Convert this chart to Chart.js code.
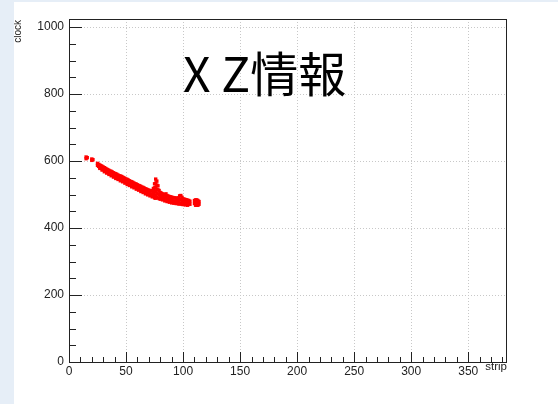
<!DOCTYPE html>
<html>
<head>
<meta charset="utf-8">
<script src="https://cdn.jsdelivr.net/npm/chart.js@4/dist/chart.umd.min.js"></script>
<style>
  html, body { margin: 0; padding: 0; }
  body { width: 558px; height: 404px; background: #e6eef7; position: relative; overflow: hidden; }
  #wrap { position: absolute; left: 14px; top: 2px; width: 544px; height: 402px; background: #fff; }
</style>
</head>
<body>
<div id="wrap"><canvas id="chart" width="544" height="402"></canvas></div>
<script>
// hit data: strip number and clock value
const strips = [
  15, 15, 16, 20, 20, 21,
  25, 25, 26, 26, 27, 27, 27, 28, 28, 29, 29, 29, 30, 30, 31, 31, 31, 32, 32,
  33, 33, 33, 34, 34, 35, 35, 35, 36, 36, 37, 37, 37, 38, 38, 39, 39, 39,
  40, 40, 41, 41, 41, 42, 42, 43, 43, 43, 44, 44, 45, 45, 45, 46, 46,
  47, 47, 47, 48, 48, 49, 49, 49, 50, 50, 51, 51, 51, 52, 52, 53, 53, 53,
  54, 54, 55, 55, 55, 56, 56, 57, 57, 57, 58, 58, 59, 59, 59, 60, 60,
  61, 61, 61, 62, 62, 63, 63, 63, 64, 64, 65, 65, 65, 66, 66, 67, 67, 67,
  68, 68, 69, 69, 69, 70, 70, 71, 71, 71, 72, 72, 73, 73, 73, 74, 74, 74,
  75, 75, 75, 75, 75, 76, 76, 76, 76, 76, 76, 77, 77, 77, 77, 77,
  78, 78, 78, 78, 79, 79, 79, 80, 80, 80, 81, 81, 82, 82, 82,
  83, 83, 84, 84, 84, 85, 85, 86, 86, 86, 87, 87, 88, 88, 88, 89, 89,
  90, 90, 90, 91, 91, 92, 92, 92, 93, 93, 94, 94, 94, 95, 95, 96, 96, 96,
  97, 97, 97, 98, 98, 98, 99, 99, 99, 100, 100, 100, 101, 101,
  102, 102, 102, 103, 103, 104, 104, 104, 105, 105, 106, 106,
  110, 110, 111, 111, 111, 112, 112, 112, 113, 113, 113, 114, 114
];
const clocks = [
  612, 607, 610, 606, 602, 604,
  593, 587, 590, 584, 588, 582, 578, 586, 580, 584, 577, 573, 582, 575, 580, 574, 568, 578, 571,
  576, 569, 564, 574, 567, 572, 565, 560, 570, 563, 569, 561, 556, 567, 560, 565, 558, 552,
  563, 556, 562, 554, 548, 560, 552, 558, 551, 545, 556, 549, 555, 547, 541, 554, 546,
  552, 544, 538, 550, 542, 548, 540, 534, 546, 538, 545, 536, 530, 543, 534, 541, 533, 527,
  539, 531, 538, 529, 523, 536, 527, 534, 526, 520, 532, 524, 531, 522, 516, 529, 520,
  527, 519, 513, 526, 517, 524, 515, 509, 522, 514, 521, 512, 506, 519, 510, 517, 509, 502,
  516, 507, 514, 505, 499, 513, 504, 511, 502, 496, 510, 500, 512, 499, 493, 518, 505, 495,
  532, 520, 508, 496, 490, 546, 534, 522, 510, 498, 489, 540, 528, 516, 504, 492,
  526, 514, 502, 490, 512, 500, 488, 506, 496, 486, 504, 494, 502, 492, 484,
  500, 490, 499, 489, 481, 502, 492, 497, 487, 479, 495, 485, 494, 484, 477, 493, 483,
  492, 482, 475, 491, 481, 490, 480, 474, 490, 479, 489, 479, 473, 488, 478, 490, 478, 472,
  496, 484, 472, 497, 485, 473, 492, 480, 471, 487, 478, 470, 486, 476,
  485, 475, 469, 484, 474, 483, 473, 468, 482, 472, 480, 471,
  482, 473, 484, 475, 468, 484, 474, 468, 482, 473, 468, 479, 471
];
const xTicks = [0, 50, 100, 150, 200, 250, 300, 350];
const yTicks = [0, 200, 400, 600, 800, 1000];
const titleText = 'X Z情報';
const xTitle = 'strip';
const yTitle = 'clock';

const points = strips.map((s, i) => ({ x: s, y: clocks[i] }));

// ROOT style: frame, inner ticks, axis titles and the big text
const rootFrame = {
  id: 'rootFrame',
  afterDraw(chart) {
    const { ctx, chartArea: a, scales } = chart;
    const xs = scales.x, ys = scales.y;
    ctx.save();
    ctx.strokeStyle = '#222';
    ctx.lineWidth = 1;
    ctx.strokeRect(a.left + 0.5, a.top + 0.5, a.right - a.left - 1, a.bottom - a.top);

    ctx.beginPath();
    for (let v = 0; v <= 380; v += 10) {
      const px = Math.round(xs.getPixelForValue(v)) + 0.5;
      const len = v % 50 === 0 ? 10 : 5;
      ctx.moveTo(px, a.bottom);
      ctx.lineTo(px, a.bottom - len);
    }
    for (let v = 0; v <= 1000; v += 50) {
      const py = Math.round(ys.getPixelForValue(v)) + 0.5;
      const len = v % 200 === 0 ? 13 : 7;
      ctx.moveTo(a.left, py);
      ctx.lineTo(a.left + len, py);
    }
    ctx.stroke();

    ctx.fillStyle = '#222';
    ctx.font = '11.5px "Liberation Sans", Arial, sans-serif';
    ctx.textAlign = 'right';
    ctx.textBaseline = 'alphabetic';
    ctx.fillText(xTitle, a.right, a.bottom + 8);

    ctx.font = '10px "Liberation Sans", Arial, sans-serif';
    ctx.translate(7, a.top + 1);
    ctx.rotate(-Math.PI / 2);
    ctx.fillText(yTitle, 0, 0);
    ctx.restore();

    ctx.save();
    ctx.fillStyle = '#000';
    ctx.font = '48px "Noto Sans CJK JP", sans-serif';
    ctx.textAlign = 'left';
    ctx.textBaseline = 'alphabetic';
    ctx.fillText(titleText, 169, 90);
    ctx.restore();
  }
};

new Chart(document.getElementById('chart'), {
  type: 'scatter',
  data: {
    datasets: [{
      data: points,
      backgroundColor: '#ff0000',
      borderColor: '#ff0000',
      borderWidth: 0,
      pointStyle: 'rect',
      pointRadius: 2.4
    }]
  },
  options: {
    responsive: false,
    animation: false,
    devicePixelRatio: 1,
    layout: { padding: { top: 17, right: 51, left: 0, bottom: 0 } },
    plugins: { legend: { display: false }, tooltip: { enabled: false } },
    scales: {
      x: {
        type: 'linear',
        min: 0,
        max: 384,
        afterFit(scale) { scale.height = 42; },
        afterBuildTicks(scale) { scale.ticks = xTicks.map(v => ({ value: v })); },
        ticks: {
          includeBounds: false,
          padding: 2,
          color: '#222',
          font: { family: '"Liberation Sans", Arial, sans-serif', size: 12 },
          maxRotation: 0,
          callback: v => String(v)
        },
        grid: { color: '#c8c8c8', lineWidth: 1, drawTicks: false },
        border: { display: false, dash: [1, 2] }
      },
      y: {
        type: 'linear',
        min: 0,
        max: 1024,
        afterFit(scale) { scale.width = 55; },
        afterBuildTicks(scale) { scale.ticks = yTicks.map(v => ({ value: v })); },
        ticks: {
          includeBounds: false,
          padding: 5,
          color: '#222',
          font: { family: '"Liberation Sans", Arial, sans-serif', size: 12 },
          callback: v => String(v)
        },
        grid: { color: '#c8c8c8', lineWidth: 1, drawTicks: false },
        border: { display: false, dash: [1, 2] }
      }
    }
  },
  plugins: [rootFrame]
});
</script>
</body>
</html>
